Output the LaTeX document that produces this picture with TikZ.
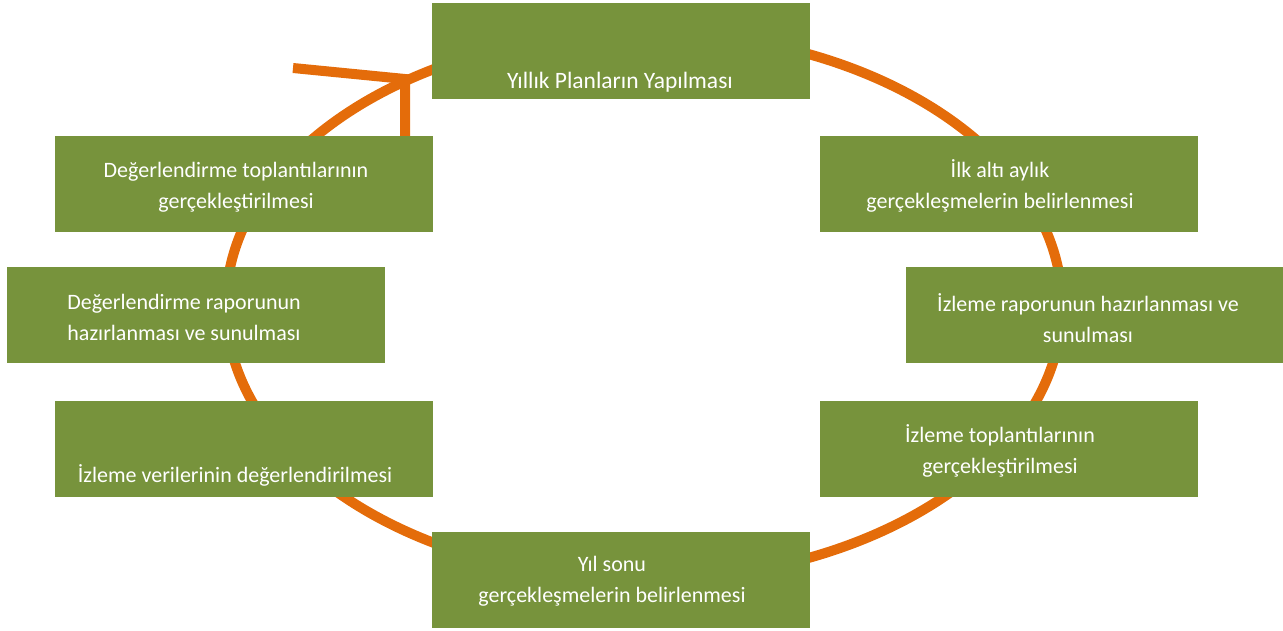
\documentclass[tikz,border=0pt]{standalone}
\usepackage{fontspec}
\setmainfont{Carlito}
\usepackage{xcolor}
\usepackage{tikz}

\definecolor{olivebox}{HTML}{77933C}
\definecolor{cycleorange}{HTML}{E46C0A}

\begin{document}
\begin{tikzpicture}[x=1pt, y=-1pt,
    stagebox/.style={draw=none, rectangle, fill=olivebox, minimum width=378pt, minimum height=96pt, inner sep=0pt},
    stagetext/.style={anchor=base, align=center, text=white, inner sep=0pt, font=\fontsize{22}{31}\selectfont},
    cycleline/.style={draw=cycleorange, line width=10pt}]
            \useasboundingbox (0,0) rectangle (1283,630);

            % the cycle and its arrow head
            \draw[cycleline] (644,306) ellipse [x radius=418, y radius=274];
            \coordinate (tip) at (405,79);
            \coordinate (barbL) at (293,68);
            \coordinate (barbD) at (405,150);
            \draw[cycleline] (barbL) -- (tip) -- (barbD);

            % stages
            \node[stagebox] (planB) at (621,51) {};
            \node[stagebox] (ilkB) at (1009,183.5) {};
            \node[stagebox] (izRaporB) at (1095,315) {};
            \node[stagebox] (izTopB) at (1009,448.5) {};
            \node[stagebox] (yilB) at (621,580) {};
            \node[stagebox] (degVeriB) at (244,448.5) {};
            \node[stagebox] (degRaporB) at (195.5,315) {};
            \node[stagebox] (degTopB) at (244,183.5) {};

            % labels, anchored at the baseline of the last line
            \node[stagetext, font=\fontsize{23.5}{31}\selectfont] (planT) at (620,88) {Yıllık Planların Yapılması};
            \node[stagetext] (ilkT) at (1000,208) {İlk altı aylık\\gerçekleşmelerin belirlenmesi};
            \node[stagetext] (izRaporT) at (1088,342) {İzleme raporunun hazırlanması ve\\sunulması};
            \node[stagetext] (izTopT) at (1000,473) {İzleme toplantılarının\\gerçekleştirilmesi};
            \node[stagetext] (yilT) at (612,602) {Yıl sonu\\gerçekleşmelerin belirlenmesi};
            \node[stagetext] (degVeriT) at (235,482) {İzleme verilerinin değerlendirilmesi};
            \node[stagetext] (degRaporT) at (184,340) {Değerlendirme raporunun\\hazırlanması ve sunulması};
            \node[stagetext] (degTopT) at (236,208) {Değerlendirme toplantılarının\\gerçekleştirilmesi};
        \end{tikzpicture}
\end{document}
